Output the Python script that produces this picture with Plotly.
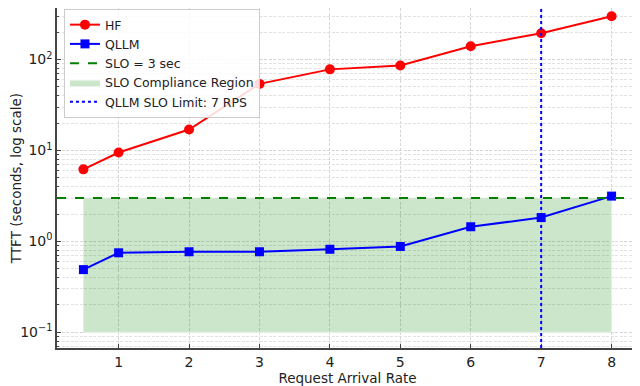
import plotly.graph_objects as go
import numpy as np

# ---- data ----
rates = [0.5, 1, 2, 3, 4, 5, 6, 7, 8]
hf_ttft = [6.2, 9.5, 17, 54, 78, 86, 140, 195, 300]
qllm_ttft = [0.49, 0.75, 0.77, 0.77, 0.82, 0.88, 1.45, 1.83, 3.15]
slo_sec = 3
slo_limit_rps = 7
region_floor = 0.1
x_ticks = [1, 2, 3, 4, 5, 6, 7, 8]
y_ticks = [0.1, 1, 10, 100]
y_tick_labels = ["10<sup>\u22121</sup>", "10<sup>0</sup>", "10<sup>1</sup>", "10<sup>2</sup>"]

FONT = "DejaVu Sans"
GRID = "#d6d6d6"
GRID_MINOR = "#e2e2e2"
GDASH = "3px,1.5px"
minor_vals = [m * 10.0 ** e for e in range(-2, 3) for m in range(2, 10)]

fig = go.Figure()

fig.add_trace(go.Scatter(
    x=[rates[0], rates[-1], rates[-1], rates[0]],
    y=[region_floor, region_floor, slo_sec, slo_sec],
    fill="toself", fillcolor="rgba(0,128,0,0.2)",
    line=dict(width=1, color="rgba(230,242,230,1)"), mode="lines", name="SLO Compliance Region",
    legendrank=4, hoverinfo="skip"))

fig.add_trace(go.Scatter(
    x=rates, y=hf_ttft, mode="lines+markers", name="HF",
    line=dict(color="#ff0000", width=2),
    marker=dict(symbol="circle", size=10, color="#ff0000"),
    legendrank=1))

fig.add_trace(go.Scatter(
    x=rates, y=qllm_ttft, mode="lines+markers", name="QLLM",
    line=dict(color="#0000ff", width=2),
    marker=dict(symbol="square", size=9, color="#0000ff"),
    legendrank=2))

fig.add_shape(type="line", xref="paper", x0=0, x1=1, yref="y", y0=slo_sec, y1=slo_sec,
              line=dict(color="#008000", width=2, dash="dash"),
              showlegend=True, name="SLO = 3 sec", legendrank=3)
fig.add_shape(type="line", xref="x", x0=slo_limit_rps, x1=slo_limit_rps, yref="paper", y0=0, y1=1,
              line=dict(color="#0000ff", width=2, dash="dot"),
              showlegend=True, name="QLLM SLO Limit: 7 RPS", legendrank=5)

# the page body has an 8px default margin, so the figure is sized to the remaining area
fig.update_layout(
    width=632, height=378,
    margin=dict(l=49, r=2, t=0, b=38),
    paper_bgcolor="white", plot_bgcolor="white",
    font=dict(family=FONT, size=14, color="#222"),
    legend=dict(x=0.012, y=0.997, xanchor="left", yanchor="top",
                bgcolor="rgba(255,255,255,0.85)", bordercolor="#cccccc", borderwidth=1,
                font=dict(size=12.5, family=FONT), tracegroupgap=0),
    xaxis=dict(
        range=[0.125, 8.375], tickmode="array", tickvals=x_ticks, automargin=False,
        title=dict(text="Request Arrival Rate", font=dict(size=13.5)),
        tickfont=dict(size=14),
        showgrid=True, gridcolor=GRID, griddash=GDASH, gridwidth=0.8,
        showline=True, linecolor="#444", linewidth=1.5,
        ticks="inside", ticklen=4, tickcolor="#444", zeroline=False),
    yaxis=dict(
        type="log", range=[-1.172, 2.567], tickmode="array", automargin=False,
        tickvals=y_ticks, ticktext=y_tick_labels, tickfont=dict(size=14),
        title=dict(text="TTFT (seconds, log scale)", font=dict(size=13.5)),
        showgrid=True, gridcolor=GRID, griddash=GDASH, gridwidth=0.8,
        showline=True, linecolor="#444", linewidth=1.5,
        ticks="inside", ticklen=4, tickcolor="#444", zeroline=False,
        minor=dict(tickmode="array", tickvals=minor_vals, showgrid=True,
                   gridcolor=GRID_MINOR, griddash=GDASH, gridwidth=0.8,
                   ticks="inside", ticklen=2, tickcolor="#444")),
)

fig.write_html("out.html")
